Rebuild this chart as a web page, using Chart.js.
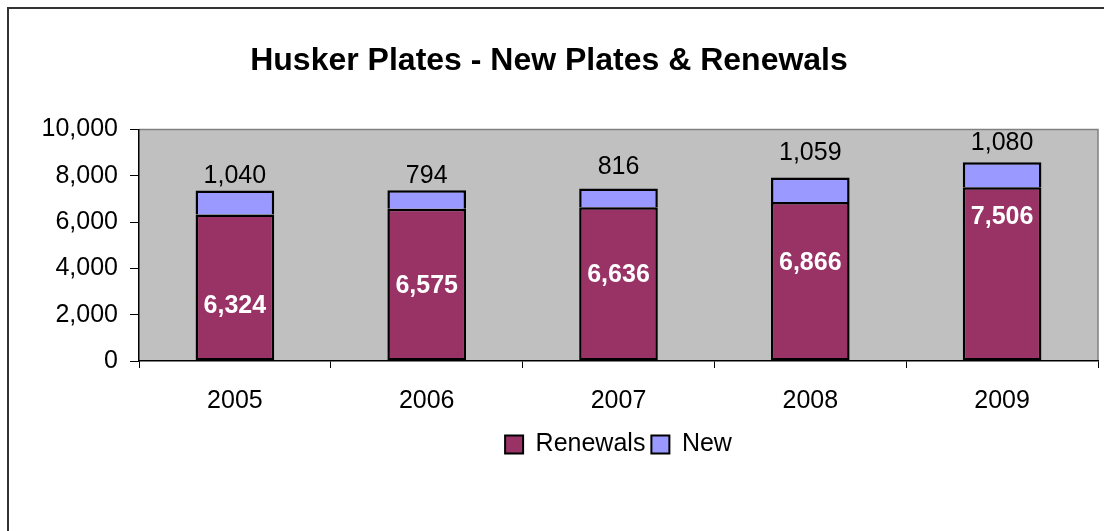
<!DOCTYPE html>
<html>
<head>
<meta charset="utf-8">
<script src="https://cdn.jsdelivr.net/npm/chart.js@4"></script>
<style>
  html, body { margin: 0; padding: 0; background: #fff; overflow: hidden; }
  #frame {
    position: absolute; left: 7px; top: 7px; width: 1120px; height: 560px;
    border: 2px solid #333; box-sizing: border-box;
  }
  #wrap { position: absolute; left: 0; top: 0; width: 1104px; height: 531px; }
</style>
</head>
<body>
<div id="frame"></div>
<div id="wrap"><canvas id="plates" width="1104" height="531"></canvas></div>
<script>
const years = ["2005", "2006", "2007", "2008", "2009"];
const renewals = [6324, 6575, 6636, 6866, 7506];
const newPlates = [1040, 794, 816, 1059, 1080];
const yTickValues = [0, 2000, 4000, 6000, 8000, 10000];

const fontFamily = 'Arial, "Liberation Sans", sans-serif';
const fmt = (v) => v.toLocaleString("en-US");

// gray plot area with thin gray frame on top/right
const plotBackground = {
  id: "plotBackground",
  beforeDraw(chart) {
    const { ctx, chartArea: a } = chart;
    ctx.save();
    ctx.fillStyle = "#c0c0c0";
    ctx.fillRect(a.left, a.top, a.right - a.left, a.bottom - a.top);
    ctx.strokeStyle = "#808080";
    ctx.lineWidth = 1.5;
    ctx.beginPath();
    ctx.moveTo(a.left, a.top);
    ctx.lineTo(a.right, a.top);
    ctx.lineTo(a.right, a.bottom);
    ctx.stroke();
    ctx.restore();
  }
};

// value labels, placed relative to each bar top
const barLabels = {
  id: "barLabels",
  afterDatasetsDraw(chart, args, opts) {
    const { ctx } = chart;
    ctx.save();
    ctx.textAlign = "center";
    ctx.textBaseline = "middle";
    chart.data.datasets.forEach((ds, di) => {
      const cfg = opts.sets[di];
      ctx.font = cfg.font;
      ctx.fillStyle = cfg.color;
      chart.getDatasetMeta(di).data.forEach((bar, i) => {
        ctx.fillText(fmt(ds.data[i]), bar.x, bar.y + cfg.offsets[i]);
      });
    });
    ctx.restore();
  }
};

new Chart(document.getElementById("plates"), {
  type: "bar",
  data: {
    labels: years,
    datasets: [
      {
        label: "Renewals",
        data: renewals,
        backgroundColor: "#993366",
        borderColor: "#000",
        borderWidth: 2.5,
        borderSkipped: false
      },
      {
        label: "New",
        data: newPlates,
        backgroundColor: "#9999ff",
        borderColor: "#000",
        borderWidth: { top: 2.5, left: 2.5, right: 2.5, bottom: 0 },
        borderSkipped: false
      }
    ]
  },
  options: {
    responsive: false,
    animation: false,
    layout: { padding: { left: 0, right: 6, top: 0, bottom: 64 } },
    datasets: { bar: { categoryPercentage: 1, barPercentage: 0.41 } },
    scales: {
      x: {
        stacked: true,
        afterFit: (s) => { s.height = 65; },
        grid: { drawOnChartArea: false, color: "#000", tickLength: 7, offset: true },
        border: { color: "#000", width: 1.5 },
        ticks: { color: "#000", padding: 18, font: { family: fontFamily, size: 25 } }
      },
      y: {
        stacked: true,
        min: 0,
        max: 10000,
        afterFit: (s) => { s.width = 139; },
        afterBuildTicks: (s) => { s.ticks = yTickValues.map((v) => ({ value: v })); },
        grid: { drawOnChartArea: false, color: "#000", tickLength: 9 },
        border: { color: "#000", width: 1.5 },
        ticks: {
          color: "#000",
          padding: 12,
          font: { family: fontFamily, size: 25 },
          callback: (v) => fmt(v)
        }
      }
    },
    plugins: {
      title: {
        display: true,
        text: "Husker Plates - New Plates & Renewals",
        color: "#000",
        font: { family: fontFamily, size: 32, weight: "bold" },
        padding: { top: 42, bottom: 49 }
      },
      legend: {
        position: "bottom",
        fullSize: false,
        labels: {
          color: "#000",
          font: { family: fontFamily, size: 25 },
          boxWidth: 18,
          boxHeight: 18,
          padding: 6,
          generateLabels: (chart) => chart.data.datasets.map((ds, i) => ({
            text: ds.label,
            fillStyle: ds.backgroundColor,
            strokeStyle: "#000",
            lineWidth: 2,
            datasetIndex: i
          }))
        }
      },
      tooltip: { enabled: false },
      barLabels: {
        sets: [
          { font: "bold 25px " + fontFamily, color: "#fff", offsets: [92, 77, 68, 61, 30] },
          { font: "25px " + fontFamily, color: "#000", offsets: [-14, -14, -21, -24, -19] }
        ]
      }
    }
  },
  plugins: [plotBackground, barLabels]
});
</script>
</body>
</html>
